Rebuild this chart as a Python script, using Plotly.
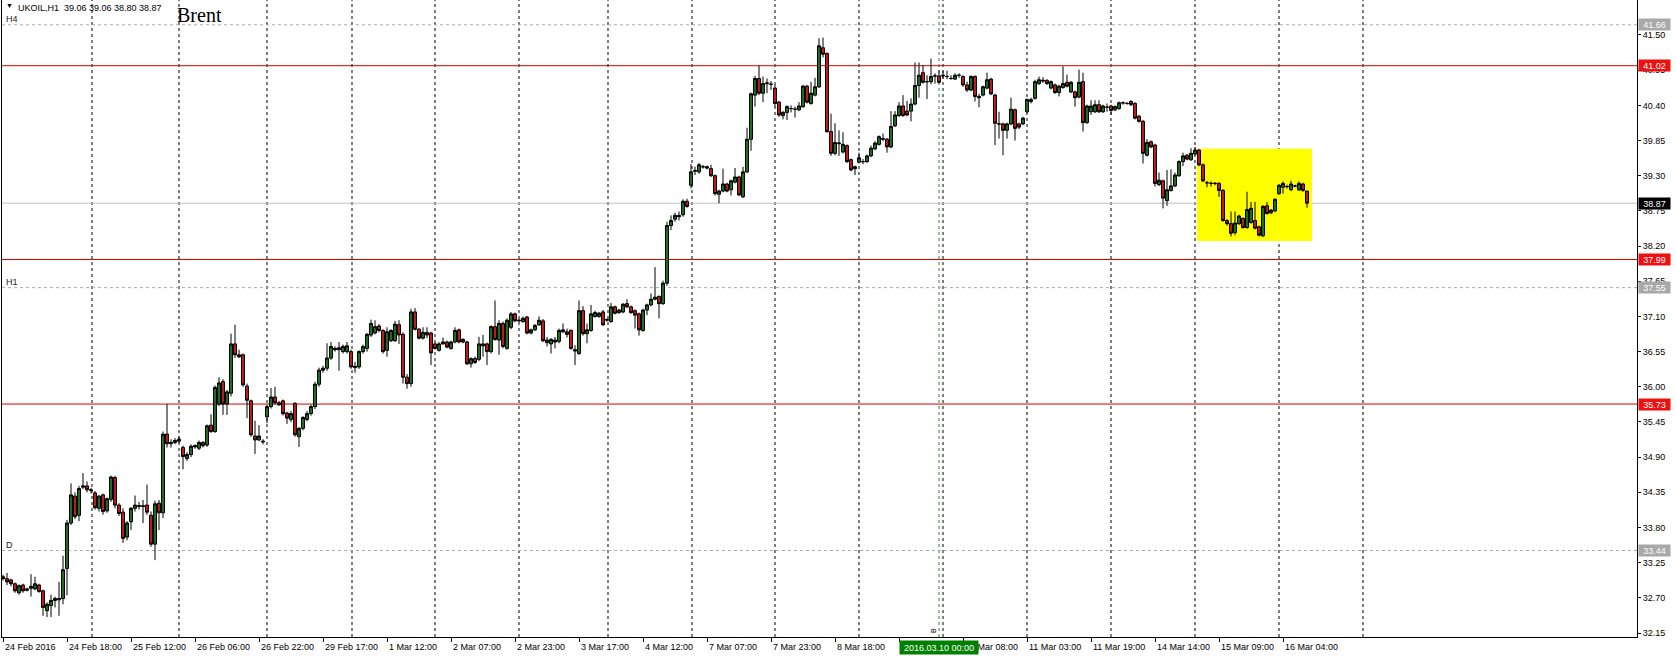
import plotly.graph_objects as go

# ---------------- data ----------------
OPEN = [
    33.03, 33.00, 32.98, 32.92, 32.78, 32.90, 32.84, 32.85, 32.84, 32.90,
    32.81, 32.50, 32.58, 32.66, 32.67, 32.69, 33.16, 33.87, 34.29, 33.99,
    34.43, 34.45, 34.39, 34.34, 34.10, 34.31, 34.06, 34.24, 34.58, 34.15,
    34.04, 33.65, 33.89, 34.10, 34.13, 34.14, 34.15, 33.99, 33.54, 34.18,
    34.03, 35.26, 35.11, 35.13, 35.15, 35.05, 34.88, 34.94, 35.06, 35.04,
    35.13, 35.09, 35.40, 35.30, 35.73, 36.08, 35.73, 35.90, 36.67, 36.50,
    36.50, 36.01, 35.78, 35.23, 35.17, 35.15, 35.53, 35.69, 35.84, 35.75,
    35.78, 35.59, 35.49, 35.74, 35.22, 35.35, 35.49, 35.58, 35.69, 36.04,
    36.26, 36.29, 36.45, 36.60, 36.58, 36.55, 36.55, 36.55, 36.30, 36.31,
    36.55, 36.60, 36.81, 36.84, 36.95, 36.88, 36.57, 36.72, 36.72, 36.97,
    36.82, 36.15, 36.05, 37.17, 36.90, 36.76, 36.85, 36.84, 36.67, 36.57,
    36.67, 36.70, 36.60, 36.70, 36.89, 36.74, 36.70, 36.36, 36.44, 36.43,
    36.67, 36.67, 36.55, 36.94, 36.73, 36.99, 36.60, 36.93, 37.14, 37.03,
    37.02, 37.09, 36.84, 36.89, 36.97, 37.03, 36.69, 36.67, 36.70, 36.71,
    36.86, 36.86, 36.88, 36.58, 36.52, 37.19, 36.83, 36.88, 37.10, 37.10,
    37.17, 37.04, 37.02, 37.25, 37.16, 37.17, 37.30, 37.25, 37.19, 37.14,
    36.88, 37.20, 37.28, 37.37, 37.41, 37.30, 37.62, 38.52, 38.62, 38.68,
    38.69, 38.90, 39.15, 39.37, 39.36, 39.44, 39.44, 39.41, 39.30, 39.01,
    39.06, 39.17, 39.08, 39.20, 39.28, 38.97, 39.36, 39.87, 40.56, 40.82,
    40.59, 40.74, 40.73, 40.67, 40.45, 40.24, 40.29, 40.35, 40.34, 40.33,
    40.38, 40.70, 40.43, 40.56, 40.69, 41.30, 41.21, 39.99, 39.65, 39.80,
    39.67, 39.77, 39.55, 39.41, 39.51, 39.52, 39.52, 39.61, 39.72, 39.79,
    39.87, 39.87, 39.75, 40.08, 40.24, 40.39, 40.31, 40.31, 40.42, 40.71,
    40.91, 40.77, 40.77, 40.86, 40.86, 40.86, 40.85, 40.82, 40.81, 40.87,
    40.85, 40.72, 40.64, 40.85, 40.54, 40.56, 40.67, 40.81, 40.56, 40.11,
    40.11, 40.01, 40.11, 40.33, 40.11, 40.11, 40.30, 40.49, 40.51, 40.74,
    40.78, 40.79, 40.67, 40.72, 40.60, 40.68, 40.76, 40.61, 40.61, 40.53,
    40.77, 40.13, 40.30, 40.30, 40.41, 40.30, 40.37, 40.39, 40.33, 40.35,
    40.44, 40.43, 40.46, 40.43, 40.23, 40.15, 39.62, 39.83, 39.78, 39.16,
    39.22, 38.91, 39.07, 39.14, 39.30, 39.52, 39.62, 39.55, 39.64, 39.70,
    39.47, 39.19, 39.18, 39.18, 39.18, 39.07, 38.60, 38.55, 38.41, 38.55,
    38.63, 38.49, 38.57, 38.60, 38.50, 38.36, 38.83, 38.72, 38.75, 39.02,
    39.12, 39.13, 39.08, 39.14, 39.08, 39.17, 39.06,
]
HIGH = [
    33.06, 33.09, 33.00, 32.94, 32.91, 32.92, 32.86, 33.07, 33.03, 32.92,
    32.83, 32.63, 32.75, 32.72, 32.95, 33.36, 33.92, 34.49, 34.35, 34.45,
    34.65, 34.52, 34.42, 34.37, 34.31, 34.33, 34.27, 34.61, 34.61, 34.18,
    34.10, 33.90, 34.12, 34.30, 34.20, 34.23, 34.47, 34.05, 34.22, 34.23,
    35.30, 35.73, 35.18, 35.20, 35.22, 35.08, 34.98, 35.10, 35.10, 35.16,
    35.15, 35.41, 35.57, 36.02, 36.15, 36.12, 35.95, 36.83, 36.97, 36.58,
    36.52, 36.05, 35.80, 35.47, 35.40, 35.18, 35.72, 35.98, 36.00, 35.78,
    35.80, 35.61, 35.62, 35.76, 35.37, 35.54, 35.62, 35.72, 36.08, 36.30,
    36.33, 36.68, 36.70, 36.63, 36.70, 36.66, 36.70, 36.58, 36.39, 36.57,
    36.66, 36.84, 37.05, 37.04, 36.98, 36.90, 36.93, 36.90, 37.03, 37.04,
    36.85, 36.20, 37.22, 37.23, 36.92, 36.93, 36.93, 36.86, 36.69, 36.70,
    36.77, 36.72, 36.72, 36.93, 36.91, 36.76, 36.72, 36.46, 36.47, 36.78,
    36.81, 36.69, 36.96, 37.35, 37.04, 37.02, 37.07, 37.17, 37.16, 37.06,
    37.10, 37.11, 36.91, 36.98, 37.10, 37.06, 36.78, 36.76, 36.78, 36.91,
    36.99, 36.91, 36.90, 36.65, 37.35, 37.26, 36.99, 37.28, 37.19, 37.17,
    37.20, 37.07, 37.31, 37.27, 37.22, 37.31, 37.37, 37.27, 37.21, 37.16,
    37.22, 37.30, 37.46, 37.87, 37.43, 37.66, 38.58, 38.68, 38.72, 38.74,
    38.93, 38.94, 39.48, 39.44, 39.50, 39.47, 39.46, 39.47, 39.32, 39.08,
    39.41, 39.19, 39.24, 39.42, 39.30, 39.44, 40.05, 40.60, 40.86, 41.02,
    40.85, 40.82, 40.78, 40.72, 40.47, 40.31, 40.40, 40.40, 40.38, 40.45,
    40.72, 40.72, 40.77, 40.83, 41.45, 41.46, 41.23, 40.27, 40.12, 40.01,
    39.98, 39.79, 39.57, 39.46, 39.66, 39.56, 39.63, 39.77, 39.84, 39.93,
    39.96, 39.89, 40.31, 40.31, 40.45, 40.56, 40.47, 40.51, 41.07, 41.07,
    41.03, 40.87, 41.13, 40.90, 40.95, 40.94, 40.94, 40.87, 40.90, 40.90,
    40.87, 40.77, 40.87, 40.87, 40.58, 40.71, 40.91, 40.83, 40.58, 40.30,
    40.13, 40.13, 40.52, 40.35, 40.13, 40.22, 40.51, 40.52, 40.80, 40.85,
    40.84, 40.81, 40.79, 40.74, 40.72, 41.01, 40.88, 40.78, 40.63, 40.96,
    40.91, 40.41, 40.48, 40.48, 40.48, 40.41, 40.43, 40.41, 40.40, 40.46,
    40.46, 40.45, 40.48, 40.45, 40.25, 40.17, 39.87, 39.85, 39.80, 39.35,
    39.24, 39.39, 39.40, 39.35, 39.54, 39.66, 39.64, 39.73, 39.75, 39.72,
    39.49, 39.22, 39.21, 39.20, 39.20, 39.09, 38.62, 38.74, 38.74, 38.69,
    38.65, 39.05, 38.89, 38.89, 38.52, 38.84, 38.89, 38.78, 38.95, 39.17,
    39.21, 39.16, 39.22, 39.16, 39.21, 39.19, 39.06,
]
LOW = [
    32.97, 32.90, 32.88, 32.78, 32.75, 32.78, 32.80, 32.72, 32.82, 32.78,
    32.42, 32.40, 32.40, 32.55, 32.42, 32.60, 32.74, 33.84, 33.93, 33.90,
    34.40, 34.35, 34.33, 34.08, 34.05, 34.00, 34.03, 34.20, 34.10, 33.98,
    33.56, 33.60, 33.76, 34.05, 34.08, 33.87, 34.00, 33.50, 33.29, 33.76,
    33.95, 35.05, 35.05, 35.10, 35.12, 34.71, 34.84, 34.90, 35.03, 35.01,
    35.05, 35.06, 35.28, 35.28, 35.70, 35.56, 35.56, 35.85, 36.45, 36.45,
    36.00, 35.51, 35.22, 34.95, 35.15, 35.10, 35.43, 35.66, 35.72, 35.70,
    35.55, 35.42, 35.45, 35.22, 35.06, 35.32, 35.46, 35.55, 35.65, 36.00,
    36.22, 36.25, 36.42, 36.55, 36.25, 36.52, 36.52, 36.28, 36.22, 36.28,
    36.52, 36.55, 36.78, 36.82, 36.85, 36.52, 36.47, 36.70, 36.70, 36.67,
    36.05, 35.97, 36.00, 36.88, 36.74, 36.74, 36.76, 36.34, 36.58, 36.55,
    36.66, 36.60, 36.58, 36.68, 36.68, 36.68, 36.34, 36.30, 36.36, 36.40,
    36.47, 36.34, 36.52, 36.72, 36.50, 36.60, 36.58, 36.90, 37.01, 37.01,
    37.00, 36.82, 36.82, 36.87, 36.95, 36.70, 36.63, 36.52, 36.60, 36.68,
    36.84, 36.77, 36.58, 36.34, 36.50, 36.80, 36.68, 36.86, 37.08, 37.08,
    36.95, 37.02, 37.00, 37.13, 37.14, 37.15, 37.23, 37.14, 36.91, 36.80,
    36.86, 37.12, 37.26, 37.35, 37.07, 37.28, 37.58, 38.45, 38.58, 38.60,
    38.66, 38.80, 39.10, 39.31, 39.33, 39.41, 39.40, 39.28, 38.99, 38.87,
    39.04, 39.04, 38.99, 39.18, 38.98, 38.95, 39.34, 39.69, 40.38, 40.56,
    40.45, 40.59, 40.64, 40.38, 40.22, 40.18, 40.17, 40.29, 40.21, 40.31,
    40.36, 40.43, 40.41, 40.54, 40.67, 41.15, 39.97, 39.61, 39.62, 39.61,
    39.65, 39.50, 39.37, 39.31, 39.49, 39.48, 39.50, 39.59, 39.70, 39.77,
    39.84, 39.66, 39.73, 40.06, 40.22, 40.22, 40.23, 40.15, 40.40, 40.52,
    40.74, 40.50, 40.73, 40.74, 40.74, 40.82, 40.81, 40.80, 40.80, 40.83,
    40.69, 40.61, 40.62, 40.46, 40.37, 40.54, 40.65, 40.56, 39.78, 39.88,
    39.62, 39.88, 40.09, 39.85, 40.03, 40.09, 40.28, 40.43, 40.49, 40.72,
    40.75, 40.72, 40.65, 40.58, 40.54, 40.66, 40.68, 40.59, 40.38, 40.51,
    39.99, 40.11, 40.25, 40.28, 40.28, 40.28, 40.30, 40.25, 40.31, 40.33,
    40.41, 40.41, 40.39, 40.18, 40.13, 39.49, 39.60, 39.73, 39.13, 39.14,
    38.79, 38.83, 39.05, 39.12, 39.28, 39.45, 39.54, 39.53, 39.62, 39.45,
    39.20, 39.12, 39.13, 39.15, 38.97, 38.58, 38.52, 38.35, 38.37, 38.53,
    38.47, 38.47, 38.55, 38.46, 38.35, 38.34, 38.69, 38.70, 38.73, 39.00,
    39.02, 39.10, 39.06, 39.12, 39.06, 39.05, 38.80,
]
CLOSE = [
    33.00, 32.95, 32.92, 32.81, 32.89, 32.81, 32.82, 32.88, 32.92, 32.80,
    32.55, 32.60, 32.66, 32.69, 32.69, 33.14, 33.87, 34.31, 33.97, 34.41,
    34.45, 34.39, 34.38, 34.11, 34.29, 34.05, 34.25, 34.59, 34.15, 34.02,
    33.63, 33.87, 34.10, 34.15, 34.14, 34.13, 34.04, 33.54, 34.17, 34.03,
    35.26, 35.11, 35.13, 35.16, 35.18, 34.91, 34.94, 35.07, 35.08, 35.13,
    35.08, 35.39, 35.30, 35.99, 36.06, 35.73, 35.92, 36.67, 36.50, 36.47,
    36.03, 35.79, 35.25, 35.17, 35.23, 35.14, 35.69, 35.84, 35.75, 35.72,
    35.58, 35.51, 35.58, 35.25, 35.35, 35.52, 35.58, 35.69, 36.04, 36.26,
    36.29, 36.45, 36.63, 36.58, 36.61, 36.63, 36.64, 36.31, 36.32, 36.55,
    36.63, 36.82, 36.99, 36.94, 36.88, 36.55, 36.86, 36.88, 36.98, 36.81,
    36.15, 36.05, 37.17, 36.90, 36.76, 36.85, 36.81, 36.53, 36.60, 36.67,
    36.70, 36.62, 36.70, 36.88, 36.70, 36.70, 36.36, 36.44, 36.38, 36.67,
    36.64, 36.55, 36.94, 36.74, 36.99, 36.63, 37.04, 37.14, 37.03, 37.04,
    37.07, 36.84, 36.89, 36.96, 37.04, 36.72, 36.73, 36.74, 36.73, 36.88,
    36.89, 36.82, 36.60, 36.56, 37.19, 36.83, 36.89, 37.14, 37.16, 37.15,
    36.97, 37.05, 37.25, 37.15, 37.20, 37.29, 37.25, 37.16, 37.12, 36.89,
    37.20, 37.28, 37.37, 37.40, 37.30, 37.62, 38.52, 38.60, 38.68, 38.66,
    38.90, 38.82, 39.36, 39.38, 39.47, 39.44, 39.42, 39.30, 39.02, 39.06,
    39.17, 39.06, 39.22, 39.28, 39.00, 39.36, 39.87, 40.58, 40.82, 40.59,
    40.74, 40.75, 40.73, 40.43, 40.25, 40.29, 40.38, 40.35, 40.34, 40.39,
    40.70, 40.45, 40.59, 40.69, 41.33, 41.20, 39.99, 39.65, 39.82, 39.81,
    39.79, 39.52, 39.39, 39.44, 39.58, 39.52, 39.61, 39.73, 39.81, 39.91,
    39.88, 39.75, 40.07, 40.25, 40.39, 40.24, 40.25, 40.42, 40.71, 40.87,
    40.76, 40.77, 40.85, 40.86, 40.76, 40.87, 40.85, 40.82, 40.87, 40.87,
    40.72, 40.64, 40.85, 40.54, 40.52, 40.69, 40.80, 40.58, 40.12, 40.11,
    40.01, 40.11, 40.34, 40.04, 40.06, 40.20, 40.49, 40.46, 40.77, 40.80,
    40.79, 40.74, 40.77, 40.60, 40.70, 40.74, 40.70, 40.76, 40.52, 40.76,
    40.13, 40.39, 40.39, 40.41, 40.30, 40.39, 40.37, 40.32, 40.38, 40.44,
    40.44, 40.43, 40.41, 40.20, 40.15, 39.65, 39.82, 39.75, 39.18, 39.23,
    38.95, 39.08, 39.14, 39.31, 39.52, 39.61, 39.56, 39.65, 39.70, 39.47,
    39.22, 39.19, 39.18, 39.18, 39.07, 38.60, 38.55, 38.40, 38.56, 38.67,
    38.49, 38.77, 38.79, 38.48, 38.37, 38.82, 38.71, 38.76, 38.93, 39.15,
    39.18, 39.13, 39.17, 39.14, 39.18, 39.07, 38.87,
]

TIME_LABELS = [
    "24 Feb 2016", "24 Feb 18:00", "25 Feb 12:00", "26 Feb 06:00", "26 Feb 22:00",
    "29 Feb 17:00", "1 Mar 12:00", "2 Mar 07:00", "2 Mar 23:00", "3 Mar 17:00",
    "4 Mar 12:00", "7 Mar 07:00", "7 Mar 23:00", "8 Mar 18:00", "9 Mar 16:00",
    "10 Mar 08:00", "11 Mar 03:00", "11 Mar 19:00", "14 Mar 14:00", "15 Mar 09:00",
    "16 Mar 04:00",
]
LABEL_EVERY = 16  # bars between time labels

PRICE_TICKS = [32.15, 32.70, 33.25, 33.80, 34.35, 34.90, 35.45, 36.00, 36.55,
               37.10, 37.65, 38.20, 38.75, 39.30, 39.85, 40.40, 40.95, 41.50]

RED_LEVELS = [41.02, 37.99, 35.73]
GRAY_LEVELS = [41.66, 37.55, 33.44]
GRAY_NAMES = ["H4", "H1", "D"]
BID_PRICE = 38.87
HEADER = "UKOIL,H1\u00a0\u00a039.06\u00a039.06\u00a038.80\u00a038.87"
TITLE = "Brent"
ZONE_BARS = [298.5, 327.25]
ZONE_PRICES = [38.28, 39.72]
MARK_BAR = 234
MARK_LABEL = "2016.03.10 00:00"

# ---------------- geometry ----------------
W, H = 1676, 657
ML, MR, MT, MB = 2, 39, 0, 20
PLOT_W = W - ML - MR
PLOT_H = H - MT - MB
BAR_PX, BAR0_PX = 4.0, 3.0
X_RANGE = [(ML - BAR0_PX) / BAR_PX, (W - MR - BAR0_PX) / BAR_PX]
Y_RANGE = [32.088, 42.047]
GRID_PX = [92, 179, 267, 352, 435, 519, 608, 692, 775, 859, 943, 1027, 1111, 1195, 1279, 1363]

FONT = "Liberation Sans"
RED = "#d80000"
GRAY = "#a8a8a8"


def xp(px):
    return (px - ML) / PLOT_W


def yp(py):
    return 1 - (py - MT) / PLOT_H


x = list(range(len(CLOSE)))

fig = go.Figure()
fig.add_trace(go.Candlestick(
    x=x, open=OPEN, high=HIGH, low=LOW, close=CLOSE,
    increasing=dict(fillcolor="#1f6b1f", line=dict(color="black", width=1)),
    decreasing=dict(fillcolor="#b81c1c", line=dict(color="black", width=1)),
    whiskerwidth=0, showlegend=False, hoverinfo="skip",
))

shapes = []
# yellow zone
shapes.append(dict(type="rect", xref="x", yref="y", x0=ZONE_BARS[0], x1=ZONE_BARS[1],
                   y0=ZONE_PRICES[0], y1=ZONE_PRICES[1], fillcolor="#ffff00",
                   line=dict(width=0), layer="below"))
# vertical grid
for gx in GRID_PX:
    shapes.append(dict(type="line", xref="paper", yref="paper", x0=xp(gx), x1=xp(gx),
                       y0=0, y1=1, line=dict(color="black", width=1, dash="3px,3px"),
                       layer="below"))
# marker line
shapes.append(dict(type="line", xref="x", yref="paper", x0=MARK_BAR, x1=MARK_BAR,
                   y0=0, y1=1, line=dict(color="#2e8b2e", width=1, dash="dot"), layer="below"))
# horizontal levels
for lv in GRAY_LEVELS:
    shapes.append(dict(type="line", xref="paper", yref="y", x0=0, x1=1, y0=lv, y1=lv,
                       line=dict(color=GRAY, width=1, dash="3px,3px"), layer="below"))
shapes.append(dict(type="line", xref="paper", yref="y", x0=0, x1=1, y0=BID_PRICE, y1=BID_PRICE,
                   line=dict(color="#c0c0c0", width=1), layer="below"))
for lv in RED_LEVELS:
    shapes.append(dict(type="line", xref="paper", yref="y", x0=0, x1=1, y0=lv, y1=lv,
                       line=dict(color=RED, width=1), layer="below"))

ann = []
# time labels (left aligned after tick)
for i, lab in enumerate(TIME_LABELS):
    ann.append(dict(x=i * LABEL_EVERY, xref="x", y=0, yref="paper", text=lab,
                    xanchor="left", yanchor="top", yshift=-3, xshift=0, showarrow=False,
                    font=dict(family=FONT, size=9, color="black")))
# marker label box on time axis
ann.append(dict(x=MARK_BAR, xref="x", y=0, yref="paper", text=MARK_LABEL,
                xanchor="center", yanchor="top", yshift=-3, showarrow=False,
                bgcolor="#008000", width=76, height=11,
                font=dict(family=FONT, size=9, color="white")))
ann.append(dict(x=MARK_BAR - 1.5, xref="x", y=yp(631), yref="paper", text="B",
                textangle=-90, showarrow=False, xanchor="center", yanchor="middle",
                font=dict(family=FONT, size=7, color="black")))
# price boxes on right axis
for lv in GRAY_LEVELS:
    ann.append(dict(x=1, xref="paper", y=lv, yref="y", text=f"{lv:.2f}", xanchor="left",
                    xshift=1, yanchor="middle", showarrow=False, bgcolor=GRAY,
                    width=29, height=9, borderpad=1,
                    font=dict(family=FONT, size=9, color="white")))
for lv in RED_LEVELS:
    ann.append(dict(x=1, xref="paper", y=lv, yref="y", text=f"{lv:.2f}", xanchor="left",
                    xshift=1, yanchor="middle", showarrow=False, bgcolor="#ee1111",
                    width=29, height=9, borderpad=1,
                    font=dict(family=FONT, size=9, color="white")))
ann.append(dict(x=1, xref="paper", y=BID_PRICE, yref="y", text=f"{BID_PRICE:.2f}",
                xanchor="left", xshift=1, yanchor="middle", showarrow=False,
                bgcolor="black", width=29, height=9, borderpad=1,
                font=dict(family=FONT, size=9, color="white")))
# level names on the left
for lv, name in zip(GRAY_LEVELS, GRAY_NAMES):
    ann.append(dict(x=xp(4), xref="paper", y=lv, yref="y", text=name, xanchor="left",
                    yanchor="bottom", yshift=-1, showarrow=False,
                    font=dict(family=FONT, size=9, color="#202020")))
# header
ann.append(dict(x=xp(4), xref="paper", y=yp(5), yref="paper", text="\u25bc",
                xanchor="left", yanchor="middle", showarrow=False,
                font=dict(family=FONT, size=7, color="black")))
ann.append(dict(x=xp(16), xref="paper", y=yp(8), yref="paper", text=HEADER,
                xanchor="left", yanchor="middle", showarrow=False,
                font=dict(family=FONT, size=9, color="black")))
ann.append(dict(x=xp(175), xref="paper", y=yp(15), yref="paper", text=TITLE,
                xanchor="left", yanchor="middle", showarrow=False,
                font=dict(family="Liberation Serif", size=20, color="black")))

fig.update_layout(
    width=W, height=H,
    margin=dict(l=ML, r=MR, t=MT, b=MB, pad=0),
    paper_bgcolor="white", plot_bgcolor="white",
    shapes=shapes, annotations=ann,
    showlegend=False,
    xaxis=dict(range=X_RANGE, showgrid=False, zeroline=False, showline=True,
               linecolor="black", linewidth=1, ticks="outside", ticklen=4,
               tickcolor="black", tickvals=[i * LABEL_EVERY for i in range(len(TIME_LABELS))],
               ticktext=[""] * len(TIME_LABELS), rangeslider=dict(visible=False),
               fixedrange=True, automargin=False),
    yaxis=dict(range=Y_RANGE, side="right", showgrid=False, zeroline=False,
               showline=True, mirror=True, linecolor="black", linewidth=1,
               ticks="outside", ticklen=3, tickcolor="black", tickvals=PRICE_TICKS,
               tickformat=".2f", tickfont=dict(family=FONT, size=9, color="black"),
               fixedrange=True, automargin=False),
    boxgap=0.15, boxgroupgap=0.1,
)

fig.write_html(
    "out.html",
    config={"displayModeBar": False},
    post_script="document.body.style.margin='0px';document.body.style.padding='0px';",
)
